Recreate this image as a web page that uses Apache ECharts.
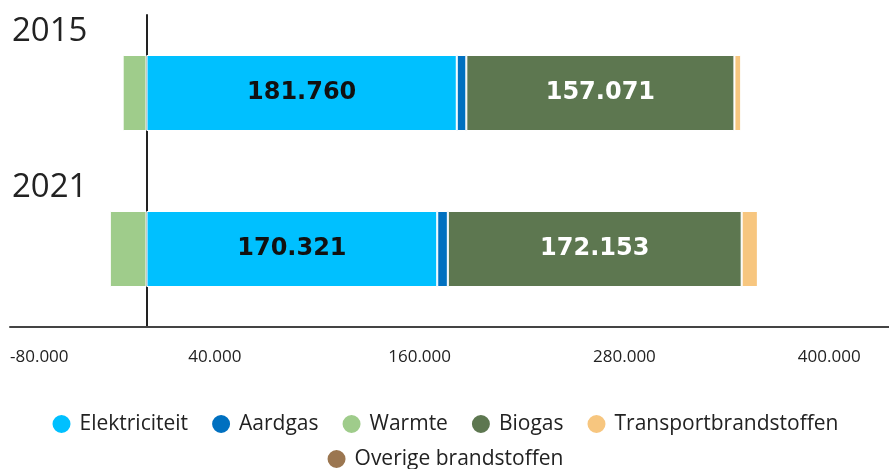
<!DOCTYPE html>
<html>
<head>
<meta charset="utf-8">
<script src="https://cdn.jsdelivr.net/npm/echarts@6/dist/echarts.min.js"></script>
<style>
  html, body { margin: 0; padding: 0; background: #fff; }
  #chart { width: 889px; height: 469px; }
</style>
</head>
<body>
<div id="chart"></div>
<script>
// jaren
var years = ['2015', '2021'];
// waarden per energiedrager
var elektriciteit = [181760, 170321];
var aardgas = [5600, 6200];
var warmte = [-14000, -21500];
var biogas = [157071, 172153];
var transport = [4000, 9500];
var overige = [0, 0];

var axisTicks = [-80000, 400000];
var legendRow1 = ['Elektriciteit', 'Aardgas', 'Warmte', 'Biogas', 'Transportbrandstoffen'];
var legendRow2 = ['Overige brandstoffen'];

// getal met punt als duizendtal-scheiding
function fmt(v) {
    var neg = v < 0;
    var s = String(Math.abs(Math.round(v)));
    s = s.replace(/\B(?=(\d{3})+(?!\d))/g, '.');
    return (neg ? '-' : '') + s;
}

var myChart = echarts.init(document.getElementById('chart'));

function barSerie(name, data, color, labelColor) {
    var s = {
        name: name,
        type: 'bar',
        stack: 'totaal',
        barWidth: 76,
        data: data,
        itemStyle: {
            color: color,
            borderColor: '#fff',
            borderWidth: 1
        },
        label: { show: false },
        emphasis: { disabled: true }
    };
    if (labelColor) {
        s.label = {
            show: true,
            position: 'inside',
            color: labelColor,
            fontFamily: 'DejaVu Sans',
            fontWeight: 'bold',
            fontSize: 24,
            formatter: function (p) { return fmt(p.value); }
        };
    }
    return s;
}

function legendRow(items, top) {
    return {
        top: top,
        left: 'center',
        icon: 'circle',
        itemWidth: 20,
        itemHeight: 20,
        itemGap: 22,
        textStyle: {
            color: '#222',
            fontFamily: 'Open Sans',
            fontSize: 21,
            padding: [0, 0, 0, 3]
        },
        data: items
    };
}

var option = {
    animation: false,
    grid: {
        left: 10,
        right: 0,
        top: 15,
        bottom: 142,
        outerBoundsMode: 'none',
        containLabel: false
    },
    xAxis: {
        type: 'value',
        min: axisTicks[0],
        max: 435000,
        interval: 120000,
        splitLine: { show: false },
        axisTick: { show: false },
        axisLine: {
            show: true,
            onZero: false,
            lineStyle: { color: '#444', width: 2 }
        },
        axisLabel: {
            margin: 22,
            color: '#222',
            fontFamily: 'Open Sans',
            fontSize: 17,
            alignMinLabel: 'left',
            showMaxLabel: false,
            formatter: function (v) { return fmt(v); }
        }
    },
    yAxis: {
        type: 'category',
        inverse: true,
        data: years,
        axisTick: { show: false },
        axisLine: {
            show: true,
            onZero: true,
            lineStyle: { color: '#222', width: 2 }
        },
        axisLabel: {
            interval: 0,
            hideOverlap: false,
            align: 'left',
            margin: -2,
            verticalAlign: 'middle',
            formatter: function (v) { return '{y|' + v + '}\n{s| }'; },
            rich: {
                y: {
                    color: '#222',
                    fontFamily: 'Open Sans',
                    fontSize: 33,
                    lineHeight: 38
                },
                s: { fontSize: 10, lineHeight: 122 }
            }
        }
    },
    legend: [
        legendRow(legendRow1, 408),
        legendRow(legendRow2, 443)
    ],
    series: [
        barSerie('Elektriciteit', elektriciteit, '#00c0ff', '#111'),
        barSerie('Aardgas', aardgas, '#0070c0'),
        barSerie('Warmte', warmte, '#9fcc8b'),
        barSerie('Biogas', biogas, '#5d7750', '#fff'),
        barSerie('Transportbrandstoffen', transport, '#f7c67f'),
        barSerie('Overige brandstoffen', overige, '#9b7650')
    ]
};
myChart.setOption(option);
</script>
</body>
</html>
